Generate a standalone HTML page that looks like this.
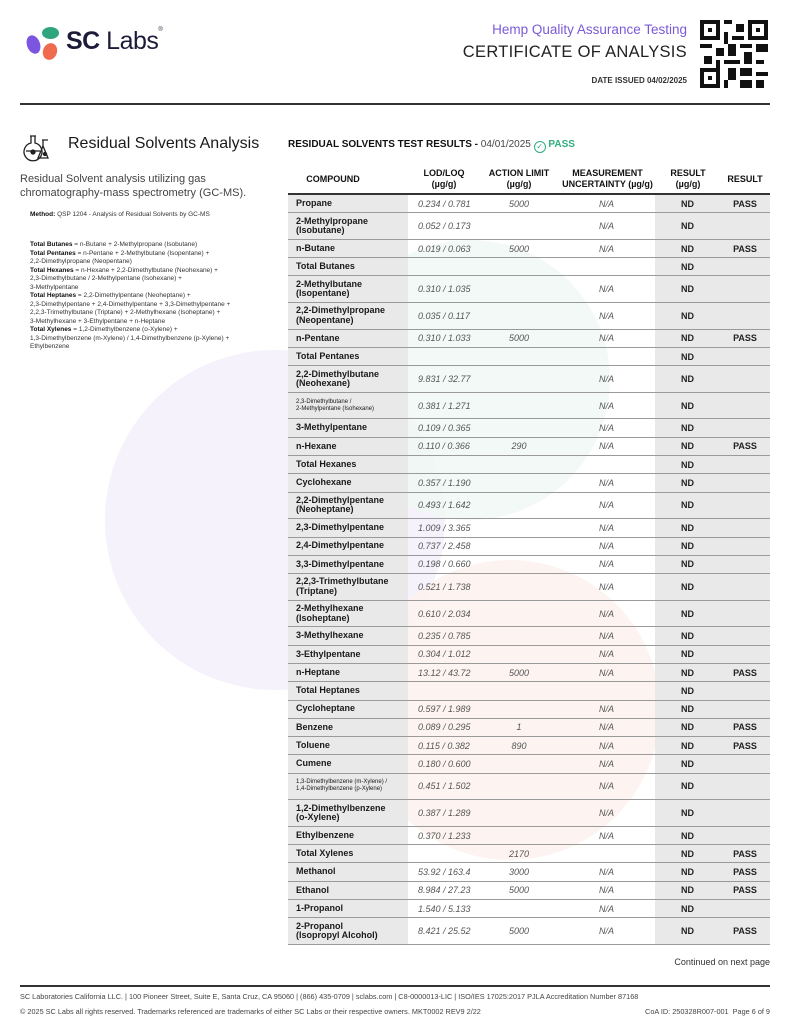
<!DOCTYPE html>
<html><head><meta charset="utf-8">
<style>
*{margin:0;padding:0;box-sizing:border-box}
body{width:800px;height:1035px;position:relative;background:#fff;font-family:"Liberation Sans",sans-serif;color:#222;overflow:hidden}
.abs{position:absolute}
.blob{position:absolute;border-radius:50%}
.rows{position:absolute;left:288px;top:195px;width:482px}
.r{display:flex;border-bottom:1.6px solid #9a9a9a;align-items:center;font-size:9px}
.r.s{height:18.3px}.r.d{height:26.6px}
.r>div{height:100%;display:flex;align-items:center}
.c1{width:120px;background:#e9e9e9;padding-left:8px;font-weight:bold;line-height:9.5px;color:#1a1a1a}
.c2{width:72px;padding-left:10px;font-style:italic;color:#555}
.c3{width:78px;justify-content:center;font-style:italic;color:#555}
.c4{width:97px;justify-content:center;font-style:italic;color:#555}
.c5{width:65px;background:#e9e9e9;justify-content:center;font-weight:bold}
.c6{width:50px;background:#e9e9e9;justify-content:center;font-weight:bold}
.sm{font-size:6px;font-weight:normal;line-height:7px}
.hd{position:absolute;top:168px;font-size:9px;font-weight:bold;text-align:center;line-height:11px;color:#111}
.left{font-size:6.5px;line-height:8.5px;color:#333}
.left b{color:#111}
</style></head><body>
<div class="blob" style="left:105px;top:350px;width:340px;height:340px;background:#f5f2fb"></div>
<div class="blob" style="left:330px;top:240px;width:280px;height:280px;background:#f0f8f4;opacity:.8"></div>
<div class="blob" style="left:360px;top:560px;width:300px;height:300px;background:#fcf1ef;opacity:.8"></div>

<!-- logo -->
<div class="blob" style="left:27px;top:35px;width:13px;height:19px;background:#7b55e0;transform:rotate(-20deg)"></div>
<div class="blob" style="left:42px;top:27px;width:17px;height:12px;background:#2fa57d"></div>
<div class="blob" style="left:43px;top:43px;width:14px;height:17px;background:#f06a4d;transform:rotate(20deg)"></div>
<div class="abs" style="left:66px;top:27px;font-size:25px;color:#1c1c3a;letter-spacing:-0.5px"><b>SC</b> Labs<sup style="font-size:6px;vertical-align:top">®</sup></div>

<div class="abs" style="right:113px;top:22px;font-size:13.5px;color:#7a5ad8;text-align:right">Hemp Quality Assurance Testing</div>
<div class="abs" style="right:113px;top:43px;font-size:16.5px;color:#222;text-align:right;letter-spacing:0.3px">CERTIFICATE OF ANALYSIS</div>
<div class="abs" style="right:113px;top:76px;font-size:8px;font-weight:bold;color:#333">DATE ISSUED 04/02/2025</div>
<svg class="abs" style="left:700px;top:20px" width="68" height="68" viewBox="0 0 17 17">
<rect width="17" height="17" fill="#fff"/>
<g fill="#111">
<rect x="0" y="0" width="5" height="5"/><rect x="12" y="0" width="5" height="5"/><rect x="0" y="12" width="5" height="5"/>
</g>
<g fill="#fff"><rect x="1" y="1" width="3" height="3"/><rect x="13" y="1" width="3" height="3"/><rect x="1" y="13" width="3" height="3"/></g>
<g fill="#111"><rect x="2" y="2" width="1" height="1"/><rect x="14" y="2" width="1" height="1"/><rect x="2" y="14" width="1" height="1"/>
<rect x="6" y="0" width="2" height="1"/><rect x="9" y="1" width="2" height="2"/><rect x="6" y="3" width="1" height="3"/><rect x="8" y="4" width="3" height="1"/>
<rect x="0" y="6" width="3" height="1"/><rect x="4" y="7" width="2" height="2"/><rect x="7" y="6" width="2" height="3"/><rect x="10" y="6" width="3" height="1"/>
<rect x="14" y="6" width="3" height="2"/><rect x="1" y="9" width="2" height="2"/><rect x="11" y="8" width="2" height="3"/><rect x="14" y="10" width="2" height="1"/>
<rect x="6" y="10" width="4" height="1"/><rect x="7" y="12" width="2" height="3"/><rect x="10" y="12" width="3" height="2"/><rect x="14" y="13" width="3" height="1"/>
<rect x="6" y="15" width="1" height="2"/><rect x="10" y="15" width="3" height="2"/><rect x="14" y="15" width="2" height="2"/><rect x="4" y="10" width="1" height="2"/></g>
</svg>
<div class="abs" style="left:20px;top:103px;width:750px;height:1.5px;background:#333"></div>

<!-- left column -->
<svg class="abs" style="left:22px;top:134px" width="34" height="28" viewBox="0 0 34 28" fill="none" stroke="#222" stroke-width="1.3">
<path d="M8 2h6M9 2v7a9 9 0 1 0 4 0V2"/><path d="M4 17h14"/><circle cx="11" cy="18" r="2" fill="#222"/>
<path d="M20 6h6M21 6v6l5 12h-10l5-12"/><circle cx="23" cy="20" r="1.5" fill="#222"/>
</svg>
<div class="abs" style="left:68px;top:135px;font-size:16px;color:#1a1a1a">Residual Solvents Analysis</div>
<div class="abs" style="left:20px;top:172px;font-size:11px;line-height:14px;color:#444;width:260px">Residual Solvent analysis utilizing gas chromatography-mass spectrometry (GC-MS).</div>
<div class="abs left" style="left:30px;top:211px"><b>Method:</b> QSP 1204 - Analysis of Residual Solvents by GC-MS</div>
<div class="abs left" style="left:30px;top:241px;width:250px">
<b>Total Butanes</b> = n-Butane + 2-Methylpropane (Isobutane)<br>
<b>Total Pentanes</b> = n-Pentane + 2-Methylbutane (Isopentane) +<br>2,2-Dimethylpropane (Neopentane)<br>
<b>Total Hexanes</b> = n-Hexane + 2,2-Dimethylbutane (Neohexane) +<br>2,3-Dimethylbutane / 2-Methylpentane (Isohexane) +<br>3-Methylpentane<br>
<b>Total Heptanes</b> = 2,2-Dimethylpentane (Neoheptane) +<br>2,3-Dimethylpentane + 2,4-Dimethylpentane + 3,3-Dimethylpentane +<br>2,2,3-Trimethylbutane (Triptane) + 2-Methylhexane (Isoheptane) +<br>3-Methylhexane + 3-Ethylpentane + n-Heptane<br>
<b>Total Xylenes</b> = 1,2-Dimethylbenzene (o-Xylene) +<br>1,3-Dimethylbenzene (m-Xylene) / 1,4-Dimethylbenzene (p-Xylene) +<br>Ethylbenzene</div>

<!-- table title -->
<div class="abs" style="left:288px;top:139px;font-size:10px;color:#111"><b>RESIDUAL SOLVENTS TEST RESULTS -</b> <span style="color:#444">04/01/2025</span> <span style="display:inline-block;width:12px;height:12px;border:1.3px solid #2fae7e;border-radius:50%;vertical-align:-2px;color:#2fae7e;font-size:8px;line-height:9px;text-align:center">✓</span> <b style="color:#2fae7e">PASS</b></div>

<div class="hd" style="left:288px;width:90px;top:174px">COMPOUND</div>
<div class="hd" style="left:408px;width:72px">LOD/LOQ<br>(µg/g)</div>
<div class="hd" style="left:480px;width:78px">ACTION LIMIT<br>(µg/g)</div>
<div class="hd" style="left:555px;width:105px">MEASUREMENT<br>UNCERTAINTY (µg/g)</div>
<div class="hd" style="left:660px;width:56px">RESULT<br>(µg/g)</div>
<div class="hd" style="left:720px;width:50px;top:174px">RESULT</div>
<div class="abs" style="left:288px;top:193px;width:482px;height:2px;background:#333"></div>

<div class="rows">
<div class="r s"><div class="c1">Propane</div><div class="c2">0.234 / 0.781</div><div class="c3">5000</div><div class="c4">N/A</div><div class="c5">ND</div><div class="c6">PASS</div></div>
<div class="r d"><div class="c1">2-Methylpropane<br>(Isobutane)</div><div class="c2">0.052 / 0.173</div><div class="c3"></div><div class="c4">N/A</div><div class="c5">ND</div><div class="c6"></div></div>
<div class="r s"><div class="c1">n-Butane</div><div class="c2">0.019 / 0.063</div><div class="c3">5000</div><div class="c4">N/A</div><div class="c5">ND</div><div class="c6">PASS</div></div>
<div class="r s"><div class="c1">Total Butanes</div><div class="c2"></div><div class="c3"></div><div class="c4"></div><div class="c5">ND</div><div class="c6"></div></div>
<div class="r d"><div class="c1">2-Methylbutane<br>(Isopentane)</div><div class="c2">0.310 / 1.035</div><div class="c3"></div><div class="c4">N/A</div><div class="c5">ND</div><div class="c6"></div></div>
<div class="r d"><div class="c1">2,2-Dimethylpropane<br>(Neopentane)</div><div class="c2">0.035 / 0.117</div><div class="c3"></div><div class="c4">N/A</div><div class="c5">ND</div><div class="c6"></div></div>
<div class="r s"><div class="c1">n-Pentane</div><div class="c2">0.310 / 1.033</div><div class="c3">5000</div><div class="c4">N/A</div><div class="c5">ND</div><div class="c6">PASS</div></div>
<div class="r s"><div class="c1">Total Pentanes</div><div class="c2"></div><div class="c3"></div><div class="c4"></div><div class="c5">ND</div><div class="c6"></div></div>
<div class="r d"><div class="c1">2,2-Dimethylbutane<br>(Neohexane)</div><div class="c2">9.831 / 32.77</div><div class="c3"></div><div class="c4">N/A</div><div class="c5">ND</div><div class="c6"></div></div>
<div class="r d"><div class="c1 sm">2,3-Dimethylbutane /<br>2-Methylpentane (Isohexane)</div><div class="c2">0.381 / 1.271</div><div class="c3"></div><div class="c4">N/A</div><div class="c5">ND</div><div class="c6"></div></div>
<div class="r s"><div class="c1">3-Methylpentane</div><div class="c2">0.109 / 0.365</div><div class="c3"></div><div class="c4">N/A</div><div class="c5">ND</div><div class="c6"></div></div>
<div class="r s"><div class="c1">n-Hexane</div><div class="c2">0.110 / 0.366</div><div class="c3">290</div><div class="c4">N/A</div><div class="c5">ND</div><div class="c6">PASS</div></div>
<div class="r s"><div class="c1">Total Hexanes</div><div class="c2"></div><div class="c3"></div><div class="c4"></div><div class="c5">ND</div><div class="c6"></div></div>
<div class="r s"><div class="c1">Cyclohexane</div><div class="c2">0.357 / 1.190</div><div class="c3"></div><div class="c4">N/A</div><div class="c5">ND</div><div class="c6"></div></div>
<div class="r d"><div class="c1">2,2-Dimethylpentane<br>(Neoheptane)</div><div class="c2">0.493 / 1.642</div><div class="c3"></div><div class="c4">N/A</div><div class="c5">ND</div><div class="c6"></div></div>
<div class="r s"><div class="c1">2,3-Dimethylpentane</div><div class="c2">1.009 / 3.365</div><div class="c3"></div><div class="c4">N/A</div><div class="c5">ND</div><div class="c6"></div></div>
<div class="r s"><div class="c1">2,4-Dimethylpentane</div><div class="c2">0.737 / 2.458</div><div class="c3"></div><div class="c4">N/A</div><div class="c5">ND</div><div class="c6"></div></div>
<div class="r s"><div class="c1">3,3-Dimethylpentane</div><div class="c2">0.198 / 0.660</div><div class="c3"></div><div class="c4">N/A</div><div class="c5">ND</div><div class="c6"></div></div>
<div class="r d"><div class="c1">2,2,3-Trimethylbutane<br>(Triptane)</div><div class="c2">0.521 / 1.738</div><div class="c3"></div><div class="c4">N/A</div><div class="c5">ND</div><div class="c6"></div></div>
<div class="r d"><div class="c1">2-Methylhexane<br>(Isoheptane)</div><div class="c2">0.610 / 2.034</div><div class="c3"></div><div class="c4">N/A</div><div class="c5">ND</div><div class="c6"></div></div>
<div class="r s"><div class="c1">3-Methylhexane</div><div class="c2">0.235 / 0.785</div><div class="c3"></div><div class="c4">N/A</div><div class="c5">ND</div><div class="c6"></div></div>
<div class="r s"><div class="c1">3-Ethylpentane</div><div class="c2">0.304 / 1.012</div><div class="c3"></div><div class="c4">N/A</div><div class="c5">ND</div><div class="c6"></div></div>
<div class="r s"><div class="c1">n-Heptane</div><div class="c2">13.12 / 43.72</div><div class="c3">5000</div><div class="c4">N/A</div><div class="c5">ND</div><div class="c6">PASS</div></div>
<div class="r s"><div class="c1">Total Heptanes</div><div class="c2"></div><div class="c3"></div><div class="c4"></div><div class="c5">ND</div><div class="c6"></div></div>
<div class="r s"><div class="c1">Cycloheptane</div><div class="c2">0.597 / 1.989</div><div class="c3"></div><div class="c4">N/A</div><div class="c5">ND</div><div class="c6"></div></div>
<div class="r s"><div class="c1">Benzene</div><div class="c2">0.089 / 0.295</div><div class="c3">1</div><div class="c4">N/A</div><div class="c5">ND</div><div class="c6">PASS</div></div>
<div class="r s"><div class="c1">Toluene</div><div class="c2">0.115 / 0.382</div><div class="c3">890</div><div class="c4">N/A</div><div class="c5">ND</div><div class="c6">PASS</div></div>
<div class="r s"><div class="c1">Cumene</div><div class="c2">0.180 / 0.600</div><div class="c3"></div><div class="c4">N/A</div><div class="c5">ND</div><div class="c6"></div></div>
<div class="r d"><div class="c1 sm">1,3-Dimethylbenzene (m-Xylene) /<br>1,4-Dimethylbenzene (p-Xylene)</div><div class="c2">0.451 / 1.502</div><div class="c3"></div><div class="c4">N/A</div><div class="c5">ND</div><div class="c6"></div></div>
<div class="r d"><div class="c1">1,2-Dimethylbenzene<br>(o-Xylene)</div><div class="c2">0.387 / 1.289</div><div class="c3"></div><div class="c4">N/A</div><div class="c5">ND</div><div class="c6"></div></div>
<div class="r s"><div class="c1">Ethylbenzene</div><div class="c2">0.370 / 1.233</div><div class="c3"></div><div class="c4">N/A</div><div class="c5">ND</div><div class="c6"></div></div>
<div class="r s"><div class="c1">Total Xylenes</div><div class="c2"></div><div class="c3">2170</div><div class="c4"></div><div class="c5">ND</div><div class="c6">PASS</div></div>
<div class="r s"><div class="c1">Methanol</div><div class="c2">53.92 / 163.4</div><div class="c3">3000</div><div class="c4">N/A</div><div class="c5">ND</div><div class="c6">PASS</div></div>
<div class="r s"><div class="c1">Ethanol</div><div class="c2">8.984 / 27.23</div><div class="c3">5000</div><div class="c4">N/A</div><div class="c5">ND</div><div class="c6">PASS</div></div>
<div class="r s"><div class="c1">1-Propanol</div><div class="c2">1.540 / 5.133</div><div class="c3"></div><div class="c4">N/A</div><div class="c5">ND</div><div class="c6"></div></div>
<div class="r d"><div class="c1">2-Propanol<br>(Isopropyl Alcohol)</div><div class="c2">8.421 / 25.52</div><div class="c3">5000</div><div class="c4">N/A</div><div class="c5">ND</div><div class="c6">PASS</div></div>
</div>

<div class="abs" style="right:30px;top:957px;font-size:9px;color:#333">Continued on next page</div>
<div class="abs" style="left:20px;top:985px;width:750px;height:1.5px;background:#333"></div>
<div class="abs" style="left:20px;top:992px;width:750px;font-size:7.3px;color:#444;white-space:nowrap">SC Laboratories California LLC. | 100 Pioneer Street, Suite E, Santa Cruz, CA 95060 | (866) 435-0709 | sclabs.com | C8-0000013-LIC | ISO/IES 17025:2017 PJLA Accreditation Number 87168</div>
<div class="abs" style="left:20px;top:1007px;font-size:7.3px;color:#444;white-space:nowrap">© 2025 SC Labs all rights reserved. Trademarks referenced are trademarks of either SC Labs or their respective owners. MKT0002 REV9 2/22</div>
<div class="abs" style="right:30px;top:1007px;font-size:7.3px;color:#444;white-space:nowrap">CoA ID: 250328R007-001&nbsp; Page 6 of 9</div>
</body></html>
